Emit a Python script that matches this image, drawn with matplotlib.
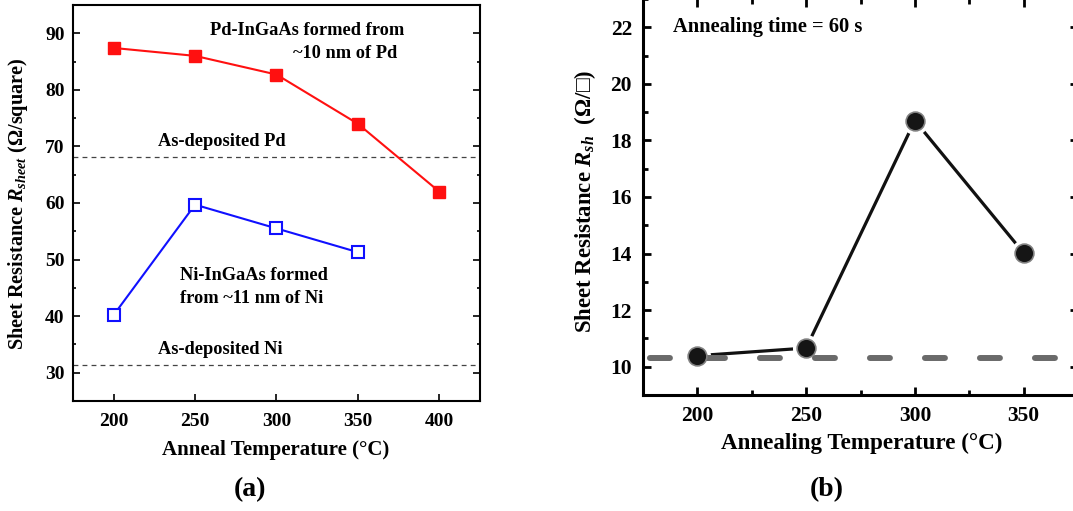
import matplotlib
matplotlib.use('Agg')
import matplotlib.pyplot as plt
from matplotlib.ticker import MultipleLocator

plt.rcParams['font.family'] = ['Liberation Serif', 'DejaVu Serif']
plt.rcParams['font.weight'] = 'bold'
plt.rcParams['mathtext.fontset'] = 'custom'
plt.rcParams['mathtext.rm'] = 'Liberation Serif:bold'
plt.rcParams['mathtext.it'] = 'Liberation Serif:italic:bold'
plt.rcParams['mathtext.bf'] = 'Liberation Serif:bold'
plt.rcParams['mathtext.fallback'] = 'stix'
plt.rcParams['lines.scale_dashes'] = False

# --- data, panel (a) ---
temp_pd = [200, 250, 300, 350, 400]
rs_pd = [87.4, 86.0, 82.7, 74.0, 62.0]
temp_ni = [200, 250, 300, 350]
rs_ni = [40.2, 59.7, 55.5, 51.3]
asdep_pd = 68.2
asdep_ni = 31.4

# --- data, panel (b) ---
temp_b = [200, 250, 300, 350]
rs_b = [10.39, 10.66, 18.7, 14.02]
ref_b = 10.3

fig = plt.figure(figsize=(10.73, 5.11), dpi=100)

# ---------------- panel (a) ----------------
ax = fig.add_axes([0.068, 0.2153, 0.3793, 0.775])
ax.plot(temp_pd, rs_pd, color='#ff1010', lw=1.5, marker='s', ms=9,
        mfc='#ff1010', mec='#ff1010', zorder=3)
ax.plot(temp_ni, rs_ni, color='#1010ff', lw=1.5, marker='s', ms=8.5,
        mfc='white', mec='#1010ff', mew=1.5, zorder=3)
ax.axhline(asdep_pd, color='#444444', lw=0.9, linestyle=(0, (3.5, 3)))
ax.axhline(asdep_ni, color='#444444', lw=0.9, linestyle=(0, (3.5, 3)))

ax.set_xlim(175, 425)
ax.set_ylim(25, 95)
ax.set_xticks([200, 250, 300, 350, 400])
ax.set_yticks([30, 40, 50, 60, 70, 80, 90])
ax.yaxis.set_minor_locator(MultipleLocator(5))
ax.tick_params(axis='both', which='both', direction='in', labelsize=14)
ax.tick_params(axis='y', which='both', right=True)
ax.tick_params(which='major', length=5, width=1.2, pad=6)
ax.tick_params(axis='x', which='major', pad=9)
ax.tick_params(which='minor', length=2.5, width=1.2)
for s in ax.spines.values():
    s.set_linewidth(1.5)

tk = dict(fontsize=13.2, fontweight='bold', va='center', ha='left')
ax.text(259, 90.5, 'Pd-InGaAs formed from', **tk)
ax.text(310, 86.5, '~10 nm of Pd', **tk)
ax.text(227, 70.9, 'As-deposited Pd', **tk)
ax.text(240.5, 47.2, 'Ni-InGaAs formed', **tk)
ax.text(240.5, 43.1, 'from ~11 nm of Ni', **tk)
ax.text(227, 34.1, 'As-deposited Ni', **tk)

ax.set_xlabel('Anneal Temperature (°C)', fontsize=15, fontweight='bold', va='center')
ax.xaxis.set_label_coords(0.499, -0.124)
ax.set_ylabel(r'Sheet Resistance $R_{sheet}$ (Ω/square)', fontsize=14.6,
              fontweight='bold', va='center')
ax.yaxis.set_label_coords(-0.135, 0.497)

# ---------------- panel (b) ----------------
bx = fig.add_axes([643 / 1073, 0.227, 435 / 1073, 0.775])
bx.axhline(ref_b, color='#6a6a6a', lw=4.3, solid_capstyle='round',
           dash_capstyle='round', linestyle=(34.6, (14.4, 25.2)), zorder=3.5)
bx.plot(temp_b, rs_b, color='#111111', lw=2.3, zorder=2)
bx.plot(temp_b, rs_b, ls='none', marker='o', ms=13.5, mfc='white',
        mec='white', mew=6, zorder=3)
bx.plot(temp_b, rs_b, ls='none', marker='o', ms=13.5, mfc='#151515',
        mec='#808080', mew=1.2, zorder=4)

bx.set_xlim(175, 375)
bx.set_ylim(9, 23)
bx.set_xticks([200, 250, 300, 350])
bx.set_yticks([10, 12, 14, 16, 18, 20, 22])
bx.xaxis.set_minor_locator(MultipleLocator(25))
bx.yaxis.set_minor_locator(MultipleLocator(1))
bx.tick_params(axis='both', which='both', direction='in', top=True, right=True,
               labelsize=15.5)
bx.tick_params(which='major', length=6, width=2, pad=8)
bx.tick_params(which='minor', length=3.5, width=2)
for s in bx.spines.values():
    s.set_linewidth(2.2)

bx.text(188.8, 22, 'Annealing time = 60 s', fontsize=14.8, fontweight='bold',
        va='center', ha='left')
bx.set_xlabel('Annealing Temperature (°C)', fontsize=16.6, fontweight='bold', va='center')
bx.xaxis.set_label_coords(0.502, -0.121)
bx.set_ylabel('Sheet Resistance $R_{sh}$  (Ω/$□$)', fontsize=16.4,
              fontweight='bold', va='center')
bx.yaxis.set_label_coords(-0.134, 0.49)

fig.text(250 / 1073, 1 - 490 / 511, '(a)', fontsize=20, fontweight='bold',
         ha='center', va='center')
fig.text(827 / 1073, 1 - 490 / 511, '(b)', fontsize=20, fontweight='bold',
         ha='center', va='center')

fig.savefig('out.png', dpi=100)
